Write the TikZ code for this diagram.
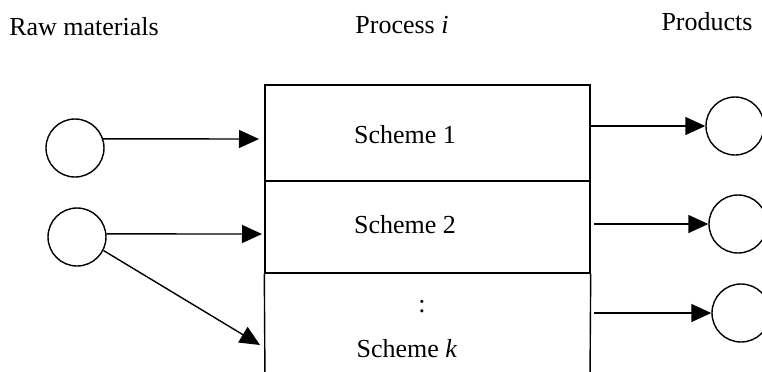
\documentclass[tikz,border=0pt]{standalone}
\usepackage{fontspec}
\setmainfont{Liberation Serif}
\usetikzlibrary{arrows.meta}
\begin{document}
\begin{tikzpicture}[x=0.5pt,y=-0.5pt,
  every node/.style={font=\fontsize{13pt}{15pt}\selectfont},
  ball/.style={circle,draw,line width=0.7pt,minimum size=29pt,inner sep=0pt},
  title/.style={anchor=base,inner sep=0pt},
  cell/.style={draw,line width=0.7pt,minimum width=162.5pt,inner sep=0pt},
  flow/.style={line width=0.7pt,-{Triangle[length=10pt,width=9pt]}}]
\useasboundingbox (0,0) rectangle (762,371);
% titles
\node[title] (traw) at (84,35) {Raw materials};
\node[title] (tproc) at (402,33) {Process \textit{i}};
\node[title] (tprod) at (707,30) {Products};
% scheme boxes
\node[cell,minimum height=48pt] (s1) at (427.5,133) {};
\node[cell,minimum height=46pt] (s2) at (427.5,227) {};
\node[title] (l1) at (405,143) {Scheme 1};
\node[title] (l2) at (405,233) {Scheme 2};
\node[title] (dots) at (422,312) {:};
\node[title] (lk) at (407,357) {Scheme \textit{k}};
\coordinate (bl) at (265,380);
\coordinate (br) at (590,380);
\draw[line width=0.7pt] (s2.south west) -- (bl);
\draw[line width=0.7pt] (s2.south east) -- (br);
% raw material circles
\node[ball] (r1) at (75,148) {};
\node[ball] (r2) at (77,237) {};
% product circles
\node[ball] (p1) at (735,126) {};
\node[ball] (p2) at (738,224) {};
\node[ball] (p3) at (741,313) {};
% input arrows
\coordinate (e1) at (259,139);
\coordinate (e2) at (262,234);
\coordinate (e3) at (260,345);
\draw[flow] (r1.18) -- (e1);
\draw[flow] (r2.6) -- (e2);
\draw[flow] (r2.-27) -- (e3);
% output arrows
\coordinate (o1) at (590,126);
\coordinate (o2) at (594,224);
\coordinate (o3) at (594,313);
\draw[flow] (o1) -- (p1.west);
\draw[flow] (o2) -- (p2.west);
\draw[flow] (o3) -- (p3.west);
\end{tikzpicture}
\end{document}
